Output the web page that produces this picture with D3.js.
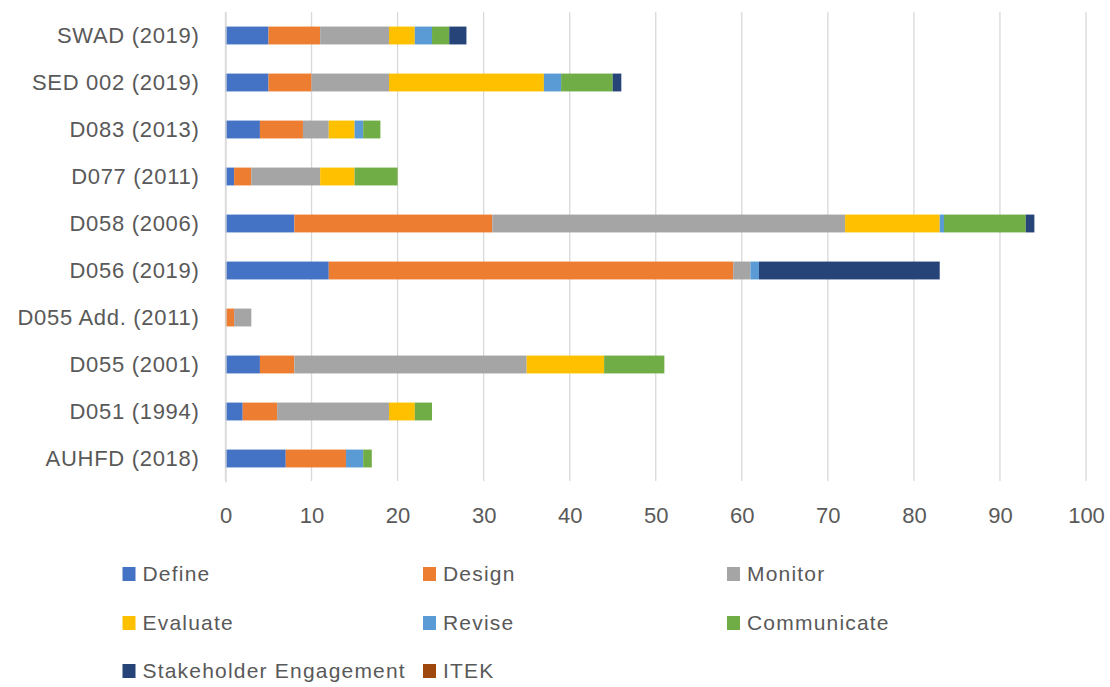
<!DOCTYPE html>
<html>
<head>
<meta charset="utf-8">
<script src="https://cdn.jsdelivr.net/npm/d3@7"></script>
<style>
  html, body { margin: 0; padding: 0; background: #ffffff; }
  svg { display: block; }
  text { font-family: "Liberation Sans", Arial, sans-serif; fill: #595959; }
</style>
</head>
<body>
<svg id="chart" width="1110" height="687"></svg>
<script>
// Documents, listed top to bottom
const categories = ["SWAD (2019)", "SED 002 (2019)", "D083 (2013)", "D077 (2011)", "D058 (2006)",
                    "D056 (2019)", "D055 Add. (2011)", "D055 (2001)", "D051 (1994)", "AUHFD (2018)"];

// Counts per stage, same order as categories
const define      = [5, 5, 4, 1, 8, 12, 0, 4, 2, 7];
const design      = [6, 5, 5, 2, 23, 47, 1, 4, 4, 7];
const monitor     = [8, 9, 3, 8, 41, 2, 2, 27, 13, 0];
const evaluate    = [3, 18, 3, 4, 11, 0, 0, 9, 3, 0];
const revise      = [2, 2, 1, 0, 0.5, 1, 0, 0, 0, 2];
const communicate = [2, 6, 2, 5, 9.5, 0, 0, 7, 2, 1];
const stakeholder = [2, 1, 0, 0, 1, 21, 0, 0, 0, 0];
const itek        = [0, 0, 0, 0, 0, 0, 0, 0, 0, 0];

const seriesNames = ["Define", "Design", "Monitor", "Evaluate", "Revise", "Communicate",
                     "Stakeholder Engagement", "ITEK"];
const seriesValues = [define, design, monitor, evaluate, revise, communicate, stakeholder, itek];
const seriesColors = ["#4472C4", "#ED7D31", "#A5A5A5", "#FFC000", "#5B9BD5", "#70AD47",
                      "#264478", "#9E480E"];

const xTicks = [0, 10, 20, 30, 40, 50, 60, 70, 80, 90, 100];

// Build a row table for d3.stack
const rows = categories.map((c, i) => {
  const r = { category: c };
  seriesNames.forEach((s, k) => { r[s] = seriesValues[k][i]; });
  return r;
});

const svg = d3.select("#chart");

const x = d3.scaleLinear().domain([0, 100]).range([225.5, 1086]);
const y = d3.scaleBand().domain(categories).range([12, 482]).paddingInner(0.62).paddingOuter(0.31);
const color = d3.scaleOrdinal().domain(seriesNames).range(seriesColors);

// Vertical gridlines
svg.append("g")
  .selectAll("line")
  .data(xTicks)
  .join("line")
  .attr("x1", d => x(d)).attr("x2", d => x(d))
  .attr("y1", 12).attr("y2", 481)
  .attr("stroke", "#D9D9D9")
  .attr("stroke-width", 1.3);

// Stacked bars
const stacked = d3.stack().keys(seriesNames)(rows);
svg.append("g")
  .selectAll("g")
  .data(stacked)
  .join("g")
  .attr("fill", d => color(d.key))
  .selectAll("rect")
  .data(d => d)
  .join("rect")
  .attr("x", d => x(d[0]))
  .attr("y", d => y(d.data.category))
  .attr("width", d => Math.max(0, x(d[1]) - x(d[0])))
  .attr("height", y.bandwidth());

// Category axis
const yAxis = svg.append("g")
  .attr("transform", `translate(${x(0)},0)`)
  .call(d3.axisLeft(y).tickSize(0).tickPadding(26));
yAxis.select(".domain").attr("stroke", "#D9D9D9").attr("stroke-width", 1.3);
yAxis.selectAll("text")
  .style("font-size", "22px")
  .style("letter-spacing", "0.7px")
  .attr("fill", "#595959");

// Value axis labels
const xAxis = svg.append("g")
  .attr("transform", "translate(0,481)")
  .call(d3.axisBottom(x).tickValues(xTicks).tickSize(0).tickPadding(26));
xAxis.select(".domain").remove();
xAxis.selectAll("text")
  .style("font-size", "22px")
  .attr("fill", "#595959");

// Legend
const legendCols = [122.5, 423, 727];
const legendRows = [574, 623, 671];
const legend = svg.append("g")
  .selectAll("g")
  .data(seriesNames)
  .join("g")
  .attr("transform", (d, i) => `translate(${legendCols[i % 3]},${legendRows[Math.floor(i / 3)]})`);
legend.append("rect")
  .attr("x", 0).attr("y", -7)
  .attr("width", 13).attr("height", 14)
  .attr("fill", d => color(d));
legend.append("text")
  .attr("x", 20)
  .attr("y", 0)
  .attr("dy", "0.35em")
  .style("font-size", "21px")
  .style("letter-spacing", "1.2px")
  .text(d => d);
</script>
</body>
</html>
